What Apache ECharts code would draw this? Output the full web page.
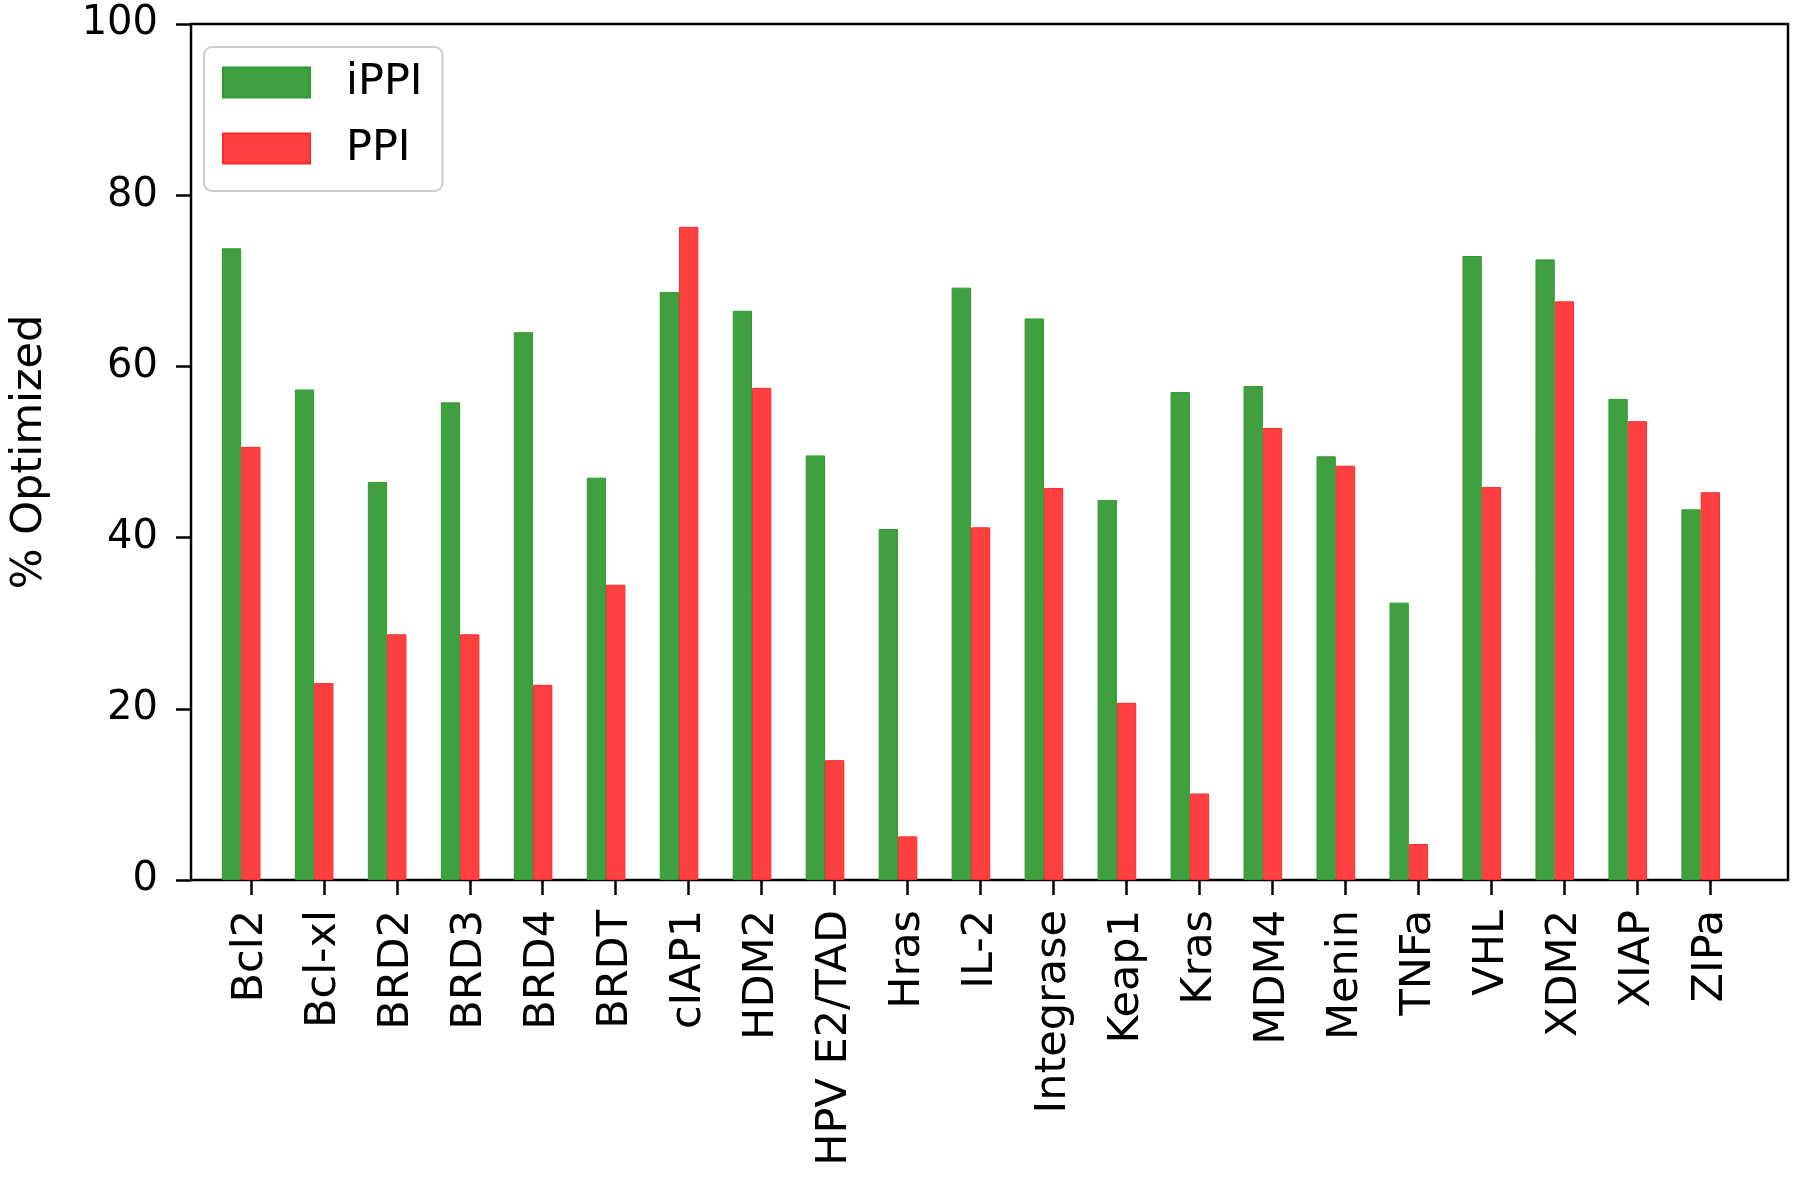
<!DOCTYPE html>
<html>
<head>
<meta charset="utf-8">
<script src="https://cdn.jsdelivr.net/npm/echarts@6/dist/echarts.min.js"></script>
<style>
html,body{margin:0;padding:0;background:#fff;}
#chart{width:1800px;height:1180px;}
</style>
</head>
<body>
<div id="chart"></div>
<script>
const categories = ['Bcl2','Bcl-xl','BRD2','BRD3','BRD4','BRDT','cIAP1','HDM2','HPV E2/TAD','Hras','IL-2','Integrase','Keap1','Kras','MDM4','Menin','TNFa','VHL','XDM2','XIAP','ZIPa'];
const iPPI = [73.8,57.3,46.5,55.8,64.0,47.0,68.7,66.5,49.6,41.0,69.2,65.6,44.4,57.0,57.7,49.5,32.4,72.9,72.5,56.2,43.3];
const PPI  = [50.6,23.0,28.7,28.7,22.8,34.5,76.3,57.5,14.0,5.1,41.2,45.8,20.7,10.1,52.8,48.4,4.2,45.9,67.6,53.6,45.3];
const yTicks = [0,20,40,60,80,100];

const FONT = 'DejaVu Sans';
const chart = echarts.init(document.getElementById('chart'), null, {renderer:'canvas'});
const TOP = 24, BOTTOM = 300;
const option = {
  backgroundColor:'#fff',
  animation:false,
  textStyle:{fontFamily:FONT},
  grid:[
    {left:182.5, right:12, top:TOP, bottom:BOTTOM, show:true, borderColor:'#000', borderWidth:2.5, backgroundColor:'transparent'},
    {left:204.7, right:62.8, top:TOP, bottom:BOTTOM},
    {left:214.35, right:53.15, top:TOP, bottom:BOTTOM}
  ],
  legend:{
    left:204, top:47,
    orient:'vertical',
    data:['iPPI','PPI'],
    itemWidth:87, itemHeight:30, itemGap:23,
    padding:[14,20,21,18],
    borderColor:'#cccccc', borderWidth:2, borderRadius:8,
    backgroundColor:'rgba(255,255,255,0.8)',
    icon:'rect',
    textStyle:{fontFamily:FONT, fontSize:43, lineHeight:30, color:'#000', padding:[0,0,0,31]}
  },
  xAxis:[
    {type:'value', gridIndex:0, min:0, max:1, show:false},
    {type:'category', gridIndex:1, data:categories, axisLine:{show:false}, axisTick:{show:false}, axisLabel:{show:false}},
    {type:'category', gridIndex:2, data:categories, position:'bottom',
      axisLine:{show:false},
      axisTick:{show:true, alignWithLabel:true, interval:0, length:15, inside:false, lineStyle:{color:'#000', width:2.5}},
      axisLabel:{show:true, interval:0, rotate:90, margin:30, fontFamily:FONT, fontSize:43, color:'#000'}
    }
  ],
  yAxis:[
    {type:'value', gridIndex:0, min:0, max:100, interval:20,
      name:'% Optimized', nameLocation:'middle', nameGap:140, nameRotate:90,
      nameTextStyle:{fontFamily:FONT, fontSize:43, color:'#000'},
      axisLine:{show:false},
      axisTick:{show:true, length:15, lineStyle:{color:'#000', width:2.5}},
      axisLabel:{show:true, margin:33, fontFamily:FONT, fontSize:40, color:'#000',
        formatter:function(v){return yTicks.indexOf(v)>=0 ? String(v) : '';}},
      splitLine:{show:false}
    },
    {type:'value', gridIndex:1, min:0, max:100, interval:20, show:false, splitLine:{show:false}},
    {type:'value', gridIndex:2, min:0, max:100, interval:20, show:false, splitLine:{show:false}}
  ],
  series:[
    {name:'iPPI', type:'bar', xAxisIndex:1, yAxisIndex:1, data:iPPI, barWidth:19.3, barGap:'0%',
      itemStyle:{color:'#40A040', borderColor:'#2f9a2f', borderWidth:1}},
    {name:'PPI', type:'bar', xAxisIndex:1, yAxisIndex:1, data:PPI, barWidth:19.3, barGap:'0%',
      itemStyle:{color:'#FF4040', borderColor:'#ff2a2a', borderWidth:1}}
  ]
};
chart.setOption(option);
</script>
</body>
</html>
